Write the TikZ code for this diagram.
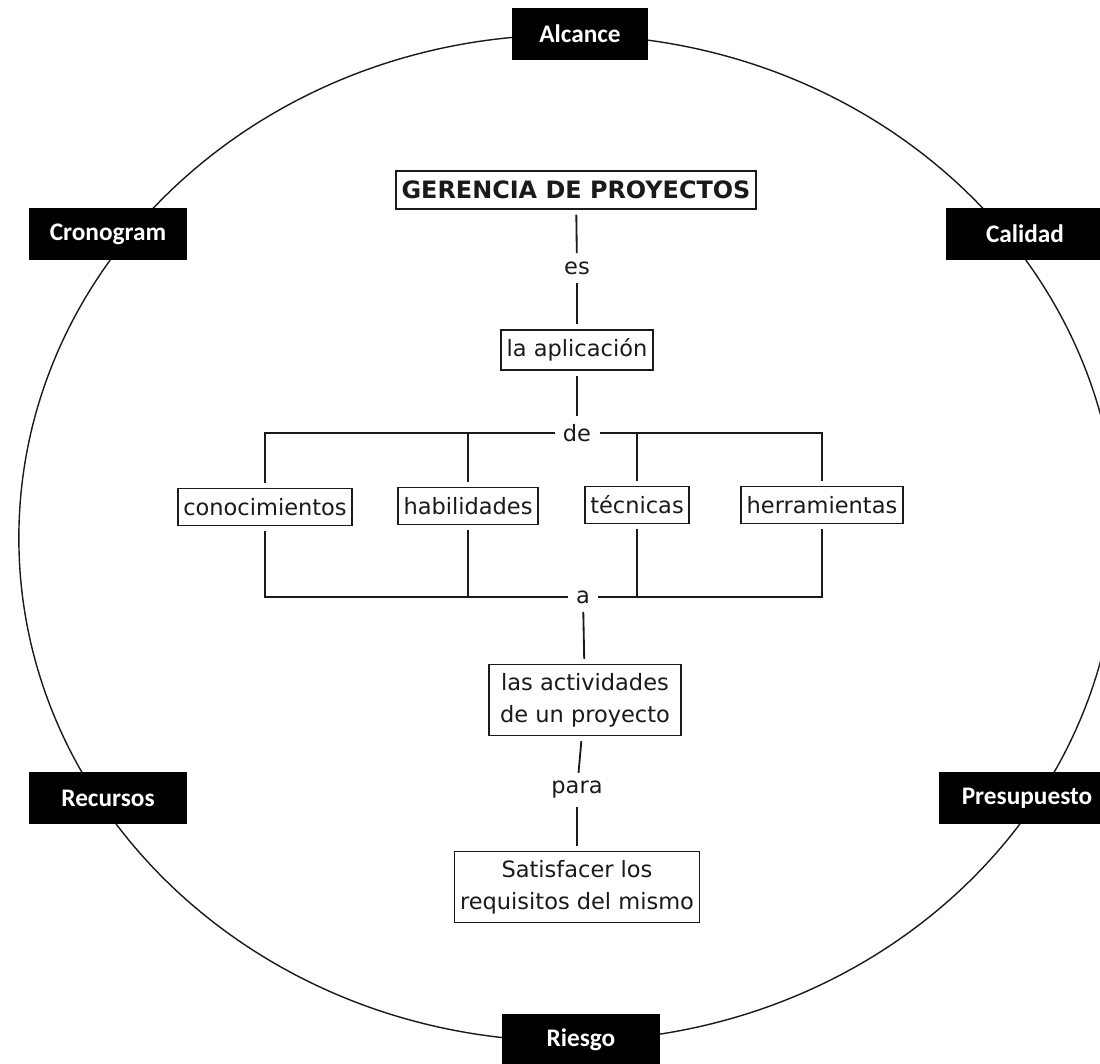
\documentclass[tikz,border=0pt]{standalone}
\usepackage{fontspec}
\setmainfont{DejaVu Sans}
\newfontfamily\tagfont{Carlito}
\usepackage{xcolor}
\definecolor{ink}{HTML}{1A1A1A}
\definecolor{paper}{HTML}{FFFFFF}
\tikzset{
  topicBox/.style={fill=black, text=white, font=\tagfont\bfseries\fontsize{18}{21}\selectfont,
    minimum width=3.95cm, minimum height=1.3cm, inner sep=2pt},
  conceptBox/.style={draw=ink, line width=1.2pt, fill=paper, text=ink,
    font=\fontsize{16}{20}\selectfont, inner sep=4pt, minimum height=1cm,
    align=center, outer sep=4pt},
  pairBox/.style={conceptBox, font=\fontsize{16}{23}\selectfont, inner ysep=6pt},
  linkText/.style={text=ink, font=\fontsize{16}{19}\selectfont, inner sep=2pt, outer sep=4pt},
  linkLine/.style={draw=ink, line width=1.3pt}
}

\begin{document}
\begin{tikzpicture}[x=0.025cm, y=-0.025cm]
  \useasboundingbox (0,0) rectangle (1100,1064);
  \clip (0,0) rectangle (1100,1064);
  \fill[paper] (0,0) rectangle (1100,1064);

  % outer ring
  \draw[ink, line width=1pt] (568,538) ellipse [x radius=13.725cm, y radius=12.575cm];

  \node[topicBox, minimum width=3.4cm] (alcance) at (580,34) {Alcance};
  \node[topicBox] (crono) at (108,234) {Cronogram};
  \node[topicBox] (calidad) at (1025,234) {Calidad};
  \node[topicBox] (recursos) at (108,798) {Recursos};
  \node[topicBox, minimum width=4.4cm] (presup) at (1027,798) {Presupuesto};
  \node[topicBox] (riesgo) at (581,1040) {Riesgo};

  % concept map
  \node[conceptBox, font=\bfseries\fontsize{17}{20}\selectfont, minimum height=0.95cm] (gerencia) at (576,190) {GERENCIA DE PROYECTOS};
  \node[linkText] (es) at (577,268) {es};
  \node[conceptBox] (aplic) at (577,350) {la aplicación};
  \node[linkText] (de) at (577,433) {de};

  \node[conceptBox, minimum height=0.93cm] (conoc) at (265,507) {conocimientos};
  \node[conceptBox, minimum height=0.93cm] (habil) at (468,506) {habilidades};
  \node[conceptBox, minimum height=0.93cm] (tecn) at (637,505) {técnicas};
  \node[conceptBox, minimum height=0.93cm] (herr) at (822,505) {herramientas};

  \node[linkText] (a) at (583,597) {a};
  \node[pairBox, inner xsep=8pt] (activ) at (585,700) {las actividades\\de un proyecto};
  \node[linkText] (para) at (577,790) {para};
  \node[pairBox] (satisf) at (577,887) {Satisfacer los\\requisitos del mismo};

  \draw[linkLine] (gerencia) -- (es);
  \draw[linkLine] (es) -- (aplic);
  \draw[linkLine] (aplic) -- (de);
  \draw[linkLine] (de.west) -| (conoc);
  \draw[linkLine] (de.west) -| (habil);
  \draw[linkLine] (de.east) -| (tecn);
  \draw[linkLine] (de.east) -| (herr);
  \draw[linkLine] (conoc) |- (a.west);
  \draw[linkLine] (habil) |- (a.west);
  \draw[linkLine] (tecn) |- (a.east);
  \draw[linkLine] (herr) |- (a.east);
  \draw[linkLine] (a) -- (activ);
  \draw[linkLine] (activ) -- (para);
  \draw[linkLine] (para) -- (satisf);
\end{tikzpicture}
\end{document}
